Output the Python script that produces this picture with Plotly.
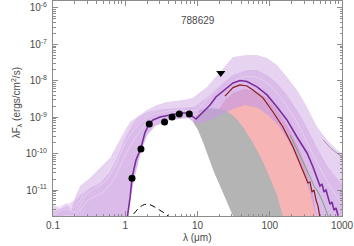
import plotly.graph_objects as go

# ---------------- data (wavelength in micron, lambda*F_lambda in erg/cm2/s) ----------------
obs_wave = [1.24, 1.65, 2.15, 3.5, 4.45, 5.6, 7.7]
obs_flux = [2.1e-11, 1.34e-10, 6.5e-10, 7.4e-10, 1.01e-9, 1.22e-9, 1.22e-9]
lim_wave = [21.0]
lim_flux = [1.64e-8]

phot_wave = [1.1, 1.23, 1.4, 1.6, 1.85, 2.1, 2.5, 3.0, 3.5, 4.0, 4.6]
phot_flux = [1.3e-12, 1.86e-12, 2.6e-12, 3.4e-12, 4.0e-12, 4.05e-12, 3.5e-12, 2.8e-12, 2.3e-12, 1.85e-12, 1.4e-12]

best_wave = [1.04, 1.17, 1.24, 1.41, 1.65, 1.87, 2.13, 2.42, 3.03, 4.16, 5.72, 7.38, 8.67, 9.53,
             10.5, 11.9, 14.9, 18.0, 22.5, 31.0, 38.7, 48.4, 66.7, 91.6, 126, 173, 238, 328, 397,
             466, 496, 529, 564, 601, 640, 682, 727, 775, 826, 881, 938]
best_flux = [1.2e-12, 6.4e-12, 2.14e-11, 6.7e-11, 1.43e-10, 3.7e-10, 6.5e-10, 8.4e-10, 1.01e-9,
             1.15e-9, 1.3e-9, 1.3e-9, 1.01e-9, 8.9e-10, 1.08e-9, 1.39e-9, 2.16e-9, 3.6e-9, 5.2e-9,
             8.7e-9, 1.02e-8, 9.6e-9, 6.8e-9, 4.1e-9, 1.9e-9, 8.4e-10, 2.86e-10, 1.04e-10, 4.3e-11,
             1.88e-11, 1.29e-11, 1.46e-11, 8.8e-12, 1.0e-11, 6.0e-12, 4.1e-12, 4.7e-12, 2.8e-12,
             3.2e-12, 1.8e-12, 1.3e-12]

red_wave = [24.0, 31.0, 38.7, 48.4, 58.6, 80.7, 111, 152, 210, 262, 308, 338, 361, 385, 410, 437, 466, 496, 512]
red_flux = [3.8e-9, 6.5e-9, 7.7e-9, 7.2e-9, 5.6e-9, 3.4e-9, 1.39e-9, 5.4e-10, 1.52e-10, 5.5e-11,
            2.6e-11, 1.56e-11, 1.66e-11, 8.8e-12, 1.0e-11, 5.3e-12, 3.6e-12, 1.8e-12, 1.2e-12]

green_wave = [191, 262, 338, 410, 466, 529, 601, 660]
green_flux = [3.2e-10, 9.2e-11, 3.1e-11, 1.29e-11, 8.8e-12, 5.3e-12, 2.8e-12, 1.7e-12]

extra_wave = [546, 700, 1000]
extra_flux = [2.4e-10, 1.4e-10, 8.0e-11]

# envelope of the fitted model family
env_up_wave = [0.1, 0.125, 0.156, 0.177, 0.208, 0.237, 0.325, 0.448, 0.615, 0.769, 0.931, 1.16,
               1.60, 2.0, 2.75, 3.78, 6.3, 8.67, 13.5, 20.5, 31.0, 48.4, 66.7, 91.6, 126, 173,
               238, 328, 451, 620, 853, 1000]
env_up_flux = [3.9e-12, 3.2e-12, 4.4e-12, 2.65e-12, 7.3e-12, 1.29e-11, 2.14e-11, 4.0e-11, 7.6e-11,
               1.72e-10, 3.2e-10, 7.4e-10, 1.15e-9, 1.58e-9, 2.16e-9, 2.62e-9, 2.97e-9, 3.4e-9,
               6.8e-9, 1.75e-8, 4.5e-8, 5.1e-8, 5.1e-8, 4.2e-8, 2.7e-8, 1.27e-8, 5.6e-9, 1.9e-9,
               5.4e-10, 2.36e-10, 1.26e-10, 1.04e-10]
core_up_wave = [0.1, 0.156, 0.237, 0.325, 0.448, 0.615, 0.769, 0.931, 1.16, 1.46, 2.0, 3.03, 5.72,
                8.67, 13.5, 20.5, 31.0, 48.4, 66.7, 91.6, 126, 173, 238, 328, 451, 620, 853, 1000]
core_up_flux = [2.5e-12, 3.6e-12, 7.3e-12, 1.13e-11, 1.56e-11, 3.1e-11, 7.6e-11, 1.96e-10, 5.0e-10,
                9.5e-10, 1.39e-9, 1.68e-9, 1.79e-9, 1.9e-9, 3.4e-9, 7.7e-9, 1.44e-8, 1.98e-8,
                1.98e-8, 1.44e-8, 8.7e-9, 4.1e-9, 1.58e-9, 5.4e-10, 1.52e-10, 4.9e-11, 2.14e-11, 1.56e-11]
env_low_wave = [1000, 437, 385, 318, 246, 179, 130, 94.6, 68.8, 45.4, 28.2, 17.5, 12.7, 9.53, 7.38,
                4.16, 2.58, 2.0, 1.65, 1.37, 1.16, 1.06, 0.1]
env_low_flux = [1.2e-12, 1.8e-12, 5.3e-12, 1.88e-11, 6.7e-11, 2.36e-10, 6.1e-10, 1.15e-9, 1.79e-9,
                2.16e-9, 1.58e-9, 9.5e-10, 7.4e-10, 6.5e-10, 9.5e-10, 8.4e-10, 5.7e-10, 3.2e-10,
                1.1e-10, 2.6e-11, 5.3e-12, 1.3e-12, 1.3e-12]

# individual model curves inside the family
grid_wave = [0.1, 0.15, 0.2, 0.3, 0.5, 0.7, 1.0, 1.5, 2.2, 3.5, 5.5, 8.5, 10, 13, 20, 30, 45, 70,
             100, 150, 250, 400, 650, 1000]
model_a = [3e-12, 4e-12, 5e-12, 1.5e-11, 3.5e-11, 1.0e-10, 4.5e-10, 1.0e-9, 1.5e-9, 2.0e-9, 2.4e-9,
           2.6e-9, 3.0e-9, 5.5e-9, 1.5e-8, 3.5e-8, 4.6e-8, 4.6e-8, 3.3e-8, 1.6e-8, 4.5e-9, 8e-10,
           2e-10, 9e-11]
model_b = [2e-12, 3e-12, 2.5e-12, 8e-12, 1.6e-11, 4e-11, 2e-10, 6e-10, 1.1e-9, 1.4e-9, 1.6e-9, 1.5e-9,
           1.6e-9, 2.8e-9, 7e-9, 1.6e-8, 2.4e-8, 2.4e-8, 1.6e-8, 7e-9, 1.6e-9, 2.5e-10, 4.5e-11, 1.5e-11]
model_c = [1.5e-12, 2e-12, 2e-12, 5e-12, 9e-12, 2e-11, 9e-11, 3.5e-10, 8e-10, 1.1e-9, 1.4e-9, 1.2e-9,
           1.2e-9, 1.9e-9, 4.2e-9, 9e-9, 1.3e-8, 1.2e-8, 7.5e-9, 3e-9, 6e-10, 9e-11, 1.5e-11, 4e-12]
model_d = [2.5e-12, 3.5e-12, 3.5e-12, 1.1e-11, 2.4e-11, 6e-11, 3e-10, 8e-10, 1.3e-9, 1.7e-9, 2e-9, 2e-9,
           2.2e-9, 4e-9, 1.05e-8, 2.5e-8, 3.5e-8, 3.5e-8, 2.4e-8, 1.1e-8, 2.8e-9, 5e-10, 1.1e-10, 4e-11]

# other model populations (filled regions)
pink_wave = [16.4, 24.0, 31.0, 45.4, 68.8, 94.6, 130, 179, 246, 318, 373, 410, 437, 451, 38.7]
pink_flux = [9.5e-10, 2.97e-9, 4.6e-9, 6.0e-9, 4.9e-9, 3.2e-9, 1.48e-9, 5.4e-10, 1.62e-10, 4.6e-11,
             1.37e-11, 5.3e-12, 1.8e-12, 1.1e-12, 1.1e-12]
grey_wave = [8.67, 10.2, 11.9, 14.0, 16.9, 21.1, 26.4, 31.0, 32.0, 157, 152, 126, 100.8, 78.2, 58.6,
             44.0, 33.0, 24.0, 15.9, 10.8]
grey_flux = [7.4e-10, 4.4e-10, 2.08e-10, 8.6e-11, 3.1e-11, 1.13e-11, 4.1e-12, 1.93e-12, 1.1e-12,
             1.1e-12, 1.93e-12, 7.3e-12, 2.14e-11, 6.7e-11, 1.96e-10, 5.0e-10, 1.01e-9, 1.58e-9,
             1.79e-9, 1.58e-9]

x_ticks = [0.1, 1, 10, 100, 1000]
x_labels = ["0.1", "1", "10", "100", "1000"]
y_ticks = [1e-11, 1e-10, 1e-9, 1e-8, 1e-7, 1e-6]
y_labels = ["10<sup>-11</sup>", "10<sup>-10</sup>", "10<sup>-9</sup>", "10<sup>-8</sup>",
            "10<sup>-7</sup>", "10<sup>-6</sup>"]
title_text = "788629"

# ---------------- figure ----------------
fig = go.Figure()

def poly(xs, ys, color):
    fig.add_trace(go.Scatter(x=xs, y=ys, mode="lines", fill="toself", fillcolor=color,
                             line=dict(width=0, color=color), hoverinfo="skip"))

poly(pink_wave, pink_flux, "#f7b4b4")
poly(grey_wave, grey_flux, "#b4b4b4")
poly(env_up_wave + env_low_wave, env_up_flux + env_low_flux, "rgba(205,165,228,0.5)")
poly(core_up_wave + env_low_wave, core_up_flux + env_low_flux, "rgba(195,145,220,0.35)")

for m in (model_a, model_b, model_c, model_d):
    fig.add_trace(go.Scatter(x=grid_wave, y=m, mode="lines",
                             line=dict(color="rgba(235,215,240,0.7)", width=1, shape="spline"),
                             hoverinfo="skip"))

fig.add_trace(go.Scatter(x=extra_wave, y=extra_flux, mode="lines", line=dict(color="#a796ad", width=1)))
fig.add_trace(go.Scatter(x=green_wave, y=green_flux, mode="lines", line=dict(color="#74a874", width=1)))
fig.add_trace(go.Scatter(x=red_wave, y=red_flux, mode="lines", line=dict(color="#8e1b1b", width=1.2)))
fig.add_trace(go.Scatter(x=best_wave, y=best_flux, mode="lines", line=dict(color="#7b2d9e", width=1.6)))
fig.add_trace(go.Scatter(x=phot_wave, y=phot_flux, mode="lines",
                         line=dict(color="black", width=1, dash="6px,4px", shape="spline")))
fig.add_trace(go.Scatter(x=obs_wave, y=obs_flux, mode="markers", marker=dict(color="black", size=7)))
fig.add_trace(go.Scatter(x=lim_wave, y=lim_flux, mode="markers",
                         marker=dict(color="black", size=8, symbol="triangle-down")))

minor_x = [m * 10 ** e for e in range(-1, 3) for m in range(2, 10)]
minor_y = [m * 10 ** e for e in range(-12, -5) for m in range(2, 10)]

axis_common = dict(type="log", showgrid=False, zeroline=False, showline=True, linecolor="#8c8c8c",
                   linewidth=1, mirror="allticks", ticks="inside", ticklen=5, tickcolor="#8c8c8c",
                   tickfont=dict(size=10, color="#4a4a4a"))
fig.update_xaxes(range=[-1, 3], tickvals=x_ticks, ticktext=x_labels,
                 minor=dict(tickvals=minor_x, ticks="inside", ticklen=2.5, tickcolor="#8c8c8c", showgrid=False),
                 **axis_common)
fig.update_yaxes(range=[-11.714, -5.808], tickvals=y_ticks, ticktext=y_labels, ticklabelstandoff=3,
                 minor=dict(tickvals=minor_y, ticks="inside", ticklen=2.5, tickcolor="#8c8c8c", showgrid=False),
                 **axis_common)

fig.update_layout(
    width=354, height=246, margin=dict(l=53, r=12, t=1, b=30),
    paper_bgcolor="white", plot_bgcolor="white", showlegend=False, hovermode=False,
    font=dict(family="Liberation Sans", size=10, color="#4a4a4a"),
    annotations=[
        dict(text=title_text, x=0.5, y=0.944, xref="paper", yref="paper", showarrow=False,
             font=dict(size=10, color="#4a4a4a")),
        dict(text="λ (μm)", x=0.5, y=-0.10, xref="paper", yref="paper", showarrow=False,
             yanchor="middle", font=dict(size=10, color="#4a4a4a")),
        dict(text="λF<sub>λ</sub> (ergs/cm<sup>2</sup>/s)", x=-0.156, y=0.526, xref="paper",
             yref="paper", showarrow=False, textangle=-90, font=dict(size=10, color="#4a4a4a")),
    ],
)

fig.write_html("out.html", config={"displayModeBar": False},
               post_script="document.body.style.margin='0px';document.body.style.padding='0px';"
                           "document.body.style.overflow='hidden';")
